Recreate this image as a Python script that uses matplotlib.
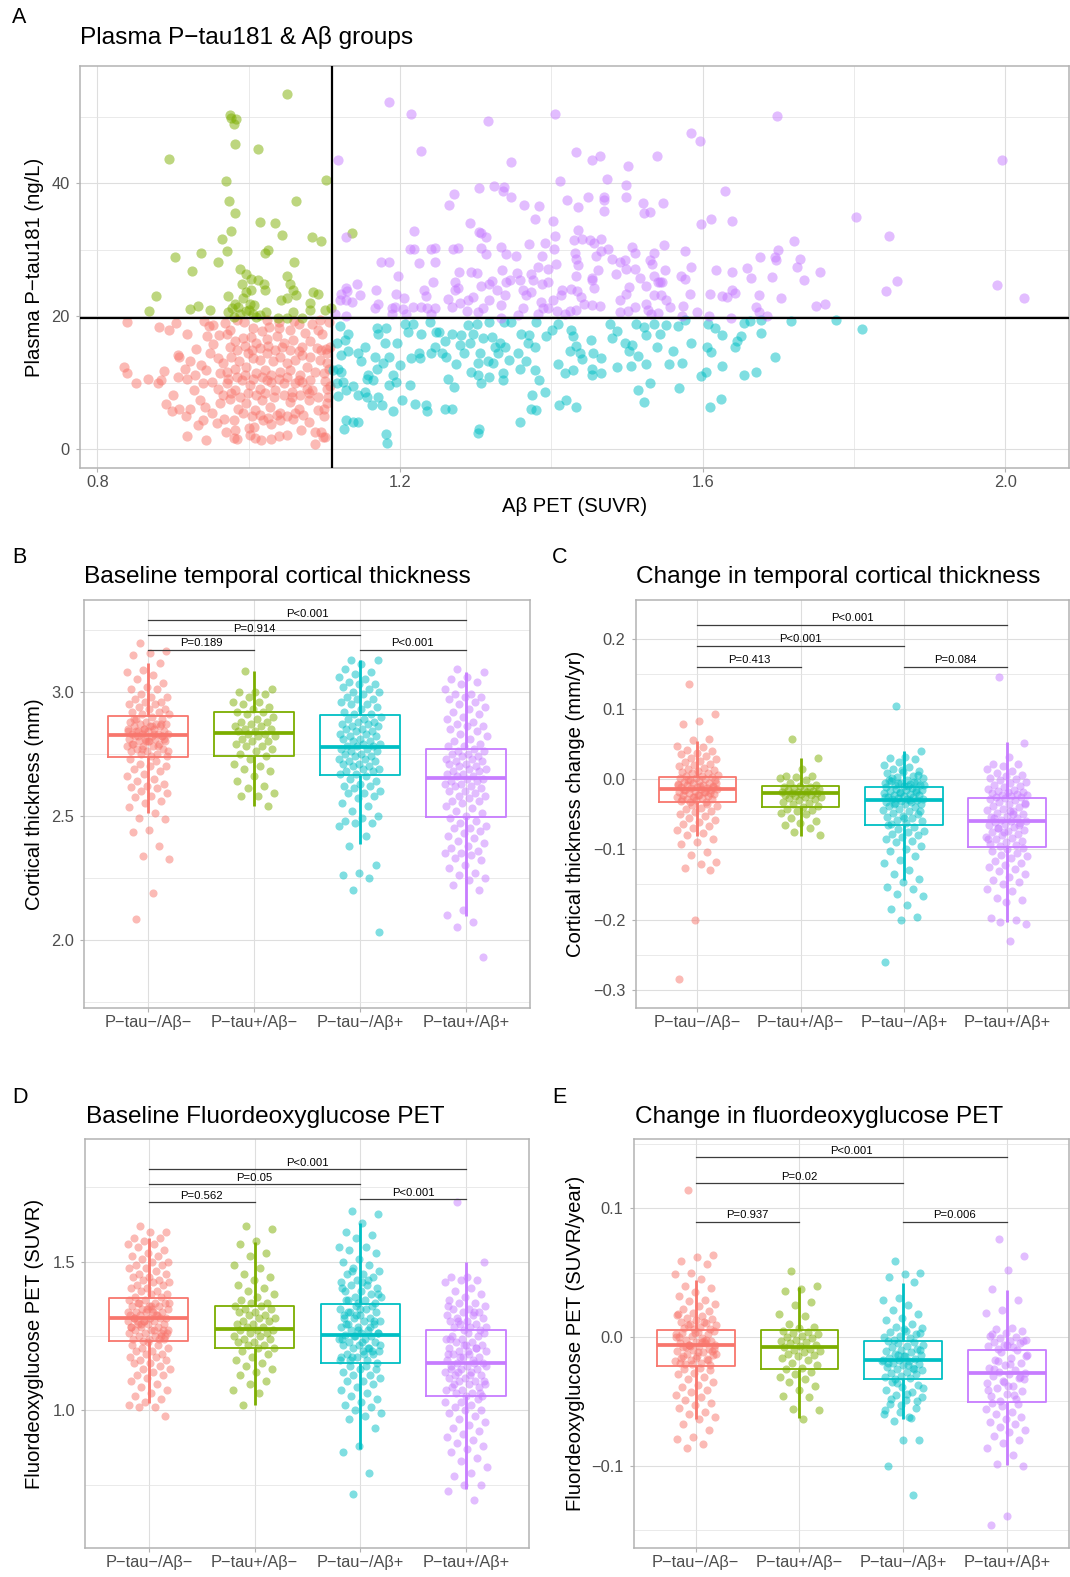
import numpy as np
import matplotlib
matplotlib.use("Agg")
import matplotlib.pyplot as plt

plt.rcParams['font.family'] = ['Liberation Sans', 'DejaVu Sans']

groups = ["P\u2212tau\u2212/A\u03b2\u2212", "P\u2212tau+/A\u03b2\u2212",
          "P\u2212tau\u2212/A\u03b2+", "P\u2212tau+/A\u03b2+"]
colors = ["#F8766D", "#7CAE00", "#00BFC4", "#C77CFF"]

# ---- panel A : (Abeta PET SUVR, plasma p-tau181) per group
a_neg_neg = [(0.839,19.2),(0.882,18.4),(0.894,18.0),(0.904,19.0),(0.918,17.4),(0.941,19.3),(0.947,18.6),(0.953,18.7),(0.969,19.0),(0.975,18.0),(0.994,19.2),(1.006,18.3),(1.018,17.8),(1.027,18.4),(1.040,19.2),(1.040,18.2),(1.054,18.0),(1.066,18.9),(1.074,17.5),(1.084,18.9),(1.091,17.9),(1.097,17.4),(1.106,19.2),(1.094,19.4),(1.024,19.4),(0.984,19.4),(1.060,19.3),
             (0.945,17.0),(0.953,15.8),(0.961,17.2),(0.971,17.4),(0.982,16.2),(0.993,16.7),(1.003,16.9),(1.010,16.0),(1.024,16.5),(1.037,17.0),(1.046,15.9),(1.059,16.4),(1.070,15.4),(1.081,16.2),(1.090,15.2),(1.096,14.9),(1.107,15.4),(0.930,15.0),(0.949,14.4),
             (0.907,14.2),(0.908,13.8),(0.922,13.2),(0.937,12.7),(0.959,13.7),(0.966,12.9),(0.977,13.9),(0.987,13.2),(0.999,14.4),(1.006,13.7),(1.015,13.4),(1.024,14.4),(1.032,13.2),(1.041,13.9),(1.050,12.9),(1.061,13.4),(1.070,14.2),(1.081,13.9),(1.094,13.4),(1.103,14.4),
             (0.835,12.4),(0.839,11.4),(0.888,11.8),(0.906,10.9),(0.916,12.1),(0.929,11.1),(0.944,11.9),(0.962,11.4),(0.971,11.6),(0.982,12.1),(0.997,12.4),(1.010,11.4),(1.021,11.9),(1.030,11.1),(1.041,11.6),(1.055,11.9),(1.068,11.1),(1.077,12.4),(1.088,11.6),(1.099,11.4),
             (0.851,10.0),(0.867,10.5),(0.880,9.9),(0.884,10.4),(0.900,8.2),(0.919,10.5),(0.927,8.9),(0.940,9.9),(0.951,10.1),(0.959,9.1),(0.971,9.9),(0.982,8.9),(0.991,10.4),(1.002,9.6),(1.015,9.1),(1.024,10.4),(1.035,8.9),(1.046,9.9),(1.057,8.6),(1.066,10.4),(1.077,9.1),(1.084,8.9),(1.104,9.1),(1.105,7.8),
             (0.891,6.8),(0.898,5.7),(0.908,6.1),(0.917,5.0),(0.922,6.1),(0.936,7.4),(0.942,6.3),(0.951,5.4),(0.962,6.9),(0.975,7.6),(0.986,6.1),(0.997,6.9),(1.008,5.9),(1.018,7.4),(1.028,6.4),(1.041,5.4),(1.055,7.1),(1.066,6.1),(1.079,7.4),(1.091,7.8),(1.099,6.1),(1.092,5.9),
             (0.933,3.6),(0.940,4.4),(0.958,3.9),(0.967,4.5),(0.980,4.3),(0.982,2.9),(1.001,3.1),(1.007,3.3),(1.019,4.4),(1.029,3.8),(1.041,4.4),(1.059,4.5),(1.069,2.9),(1.079,4.1),(1.088,2.5),(1.096,2.6),(0.918,1.9),(0.944,1.4),(0.970,2.5),(0.981,1.6),(0.985,1.5),(1.002,2.1),(1.008,1.6),(1.016,1.3),(1.030,1.5),(1.040,2.0),(1.050,2.1),(1.087,0.8),(1.098,1.8),
             (0.975,15.4),(0.984,14.9),(0.995,15.5),(1.004,14.9),(1.015,15.2),(1.026,15.5),(1.035,14.9),(1.044,15.3),(1.055,14.9),(1.066,14.7),(0.973,10.6),(0.984,10.9),(0.995,11.1),(1.006,10.6),(1.018,10.9),(1.030,10.1),(1.040,10.6),(1.051,10.9),(1.061,9.9),(1.071,10.1),(1.081,10.4),
             (0.966,8.1),(0.977,8.4),(0.988,7.9),(0.999,8.4),(1.010,8.1),(1.021,8.4),(1.033,7.9),(1.046,8.1),(1.057,7.9),(1.068,8.1),(1.079,8.4),(0.993,5.4),(1.004,4.9),(1.015,5.1),(1.026,4.6),(1.037,5.1),(1.050,4.9),(1.061,5.4),(1.072,5.1),
             (1.102,15.0),(1.104,13.0),(1.106,12.0),(1.101,10.2),(1.107,9.5),(1.103,7.0),(1.100,5.0),(1.101,1.8)]

a_pos_neg = [(1.050,53.5),(0.975,50.3),(0.977,49.9),(0.983,49.7),(0.980,48.9),(0.982,45.9),(1.012,45.2),(0.895,43.7),(0.970,40.4),(1.102,40.6),(0.974,37.3),(1.062,37.3),(0.982,35.6),(1.015,34.2),(1.035,34.0),(0.976,32.9),(1.044,32.3),(1.084,31.9),(1.096,31.4),(0.964,31.6),
             (0.971,29.9),(0.903,29.0),(0.937,29.6),(1.022,29.6),(1.025,30.0),(0.960,28.2),(1.060,28.2),(0.925,26.8),(0.988,27.1),(0.997,26.3),(1.003,25.6),(1.012,25.5),(1.020,24.8),(1.021,23.9),(1.050,26.1),(1.055,24.9),(1.059,23.9),(1.063,23.2),(0.991,24.9),(0.997,23.7),
             (1.003,23.9),(0.993,22.8),(0.973,23.0),(0.877,23.1),(1.085,23.7),(1.092,23.3),(1.043,22.4),(1.051,22.7),(1.081,22.0),(0.982,21.9),(0.986,21.4),(1.002,21.9),(1.007,21.7),(0.868,20.8),(0.923,21.1),(0.933,21.6),(0.949,20.9),(0.973,20.7),(0.980,19.9),(0.988,20.4),
             (0.997,20.8),(1.006,20.3),(1.015,20.2),(1.023,20.7),(1.039,19.8),(1.050,19.8),(1.058,20.6),(1.070,19.8),(1.081,20.9),(1.101,21.0),(1.109,21.2),(0.978,21.2),(1.001,20.9),(1.010,19.9),(1.137,32.6)]

a_neg_pos = [(1.120,18.6),(1.131,17.4),(1.127,16.4),(1.116,16.0),(1.122,14.2),(1.131,14.7),(1.145,14.4),(1.149,13.2),(1.153,15.4),(1.167,13.9),(1.170,18.2),(1.171,17.4),(1.181,18.3),(1.180,16.0),(1.196,15.9),(1.158,11.1),(1.156,10.6),(1.164,10.4),(1.169,12.1),(1.178,12.9),
             (1.186,13.8),(1.200,12.7),(1.118,12.1),(1.122,11.6),(1.111,11.9),(1.116,9.9),(1.125,10.1),(1.138,9.5),(1.118,8.0),(1.128,8.9),(1.145,8.1),(1.153,8.6),(1.156,7.8),(1.163,6.6),(1.171,7.9),(1.176,6.6),(1.190,5.8),(1.186,9.6),(1.191,11.1),(1.195,10.1),
             (1.203,7.4),(1.213,9.7),(1.214,13.7),(1.225,14.4),(1.226,13.7),(1.220,6.8),(1.234,6.6),(1.235,5.8),(1.259,6.0),(1.269,6.1),(1.263,10.5),(1.271,9.3),(1.206,18.9),(1.211,17.7),(1.217,18.9),(1.228,17.3),(1.239,19.2),(1.246,15.4),(1.248,17.7),(1.252,17.7),
             (1.260,16.2),(1.268,17.4),(1.274,12.8),(1.281,17.2),(1.279,15.7),(1.285,14.4),(1.292,15.9),(1.290,18.7),(1.296,17.3),(1.301,18.9),(1.305,14.4),(1.310,16.7),(1.318,19.2),(1.321,16.9),(1.326,15.4),(1.329,14.4),(1.332,15.9),(1.338,15.4),(1.344,13.4),(1.336,11.4),
             (1.336,10.4),(1.323,12.9),(1.316,13.2),(1.303,12.9),(1.294,11.6),(1.303,11.1),(1.307,9.9),(1.318,10.9),(1.255,14.4),(1.261,13.9),(1.241,14.4),(1.360,17.4),(1.371,17.2),(1.380,19.2),(1.378,15.4),(1.369,15.9),(1.356,14.4),(1.358,12.0),(1.367,13.2),(1.378,11.9),
             (1.384,10.4),(1.391,8.6),(1.374,8.1),(1.373,6.1),(1.380,5.9),(1.359,4.1),(1.304,3.0),(1.303,2.4),(1.128,4.4),(1.138,4.0),(1.145,4.0),(1.126,3.0),(1.181,2.3),(1.183,0.9),(1.393,17.0),(1.401,18.0),(1.409,18.8),(1.426,17.9),(1.429,17.0),(1.432,15.5),
             (1.424,14.7),(1.438,14.4),(1.440,13.5),(1.409,12.8),(1.418,11.5),(1.429,11.9),(1.452,16.4),(1.455,14.4),(1.466,13.7),(1.453,12.1),(1.454,11.1),(1.465,11.4),(1.478,18.9),(1.487,17.8),(1.480,16.7),(1.487,12.4),(1.497,15.9),(1.503,14.8),(1.506,15.7),(1.514,14.0),
             (1.505,12.5),(1.525,12.8),(1.512,18.9),(1.523,18.4),(1.525,17.2),(1.536,18.9),(1.544,17.4),(1.552,18.7),(1.539,15.3),(1.561,14.8),(1.556,12.8),(1.572,13.0),(1.585,15.9),(1.598,11.0),(1.530,10.0),(1.515,8.9),(1.522,7.1),(1.569,9.2),(1.577,19.4),(1.567,18.6),
             (1.410,6.6),(1.419,7.4),(1.433,6.3),(1.347,19.2),(1.337,19.2),(1.607,18.8),(1.616,18.2),(1.626,17.2),(1.650,17.1),(1.645,16.2),(1.642,15.4),(1.605,15.4),(1.611,14.6),(1.654,19.0),(1.662,19.3),(1.677,19.4),(1.677,17.5),(1.716,19.3),(1.776,19.5),(1.810,18.1),
             (1.696,13.8),(1.626,12.5),(1.654,11.1),(1.671,11.6),(1.604,11.6),(1.624,7.6),(1.610,6.4)]

a_pos_pos = [(1.185,52.3),(1.214,50.5),(1.316,49.4),(1.405,50.5),(1.585,47.6),(1.597,46.4),(1.227,44.9),(1.118,43.6),(1.346,43.2),(1.433,44.8),(1.454,43.5),(1.464,44.2),(1.539,44.1),(1.501,42.6),(1.411,40.4),(1.473,40.7),(1.499,39.7),(1.304,39.3),(1.324,39.6),(1.337,39.5),
             (1.336,38.9),(1.271,38.4),(1.265,36.7),(1.347,38.0),(1.364,36.7),(1.383,36.6),(1.420,37.5),(1.435,36.4),(1.449,37.9),(1.469,38.0),(1.470,37.5),(1.470,35.9),(1.499,37.9),(1.521,37.0),(1.523,35.5),(1.530,35.7),(1.548,37.1),(1.378,34.7),(1.402,34.4),(1.292,34.1),
             (1.598,33.9),(1.219,32.9),(1.304,32.7),(1.307,32.5),(1.313,32.0),(1.128,32.0),(1.405,32.1),(1.435,33.0),(1.430,31.5),(1.440,31.7),(1.451,31.5),(1.456,31.1),(1.466,31.6),(1.370,30.9),(1.391,31.1),(1.404,30.1),(1.213,30.2),(1.218,30.1),(1.241,30.1),(1.246,30.3),
             (1.270,30.1),(1.277,30.3),(1.307,30.3),(1.314,29.4),(1.334,30.5),(1.340,29.4),(1.353,29.1),(1.387,29.1),(1.406,27.8),(1.431,29.5),(1.432,28.6),(1.435,27.7),(1.459,29.1),(1.466,29.9),(1.475,30.2),(1.480,28.6),(1.491,28.2),(1.497,28.4),(1.506,30.5),(1.510,29.6),
             (1.536,29.6),(1.530,28.5),(1.533,27.9),(1.549,30.7),(1.577,29.9),(1.175,28.2),(1.185,28.1),(1.225,28.0),(1.246,28.1),(1.197,26.0),(1.278,26.6),(1.294,26.6),(1.301,26.5),(1.335,26.9),(1.354,26.5),(1.373,26.4),(1.382,27.4),(1.395,27.1),(1.433,26.1),(1.453,25.7),
             (1.462,26.9),(1.486,26.4),(1.499,27.1),(1.510,27.1),(1.517,25.7),(1.536,26.0),(1.543,25.2),(1.550,27.0),(1.571,26.1),(1.585,27.4),(1.577,25.6),(1.143,24.8),(1.128,24.3),(1.130,23.8),(1.168,24.0),(1.122,23.3),(1.147,23.2),(1.120,22.5),(1.129,22.4),(1.136,22.2),
             (1.171,21.8),(1.194,23.4),(1.205,22.8),(1.231,24.0),(1.234,23.0),(1.244,25.2),(1.273,25.1),(1.273,23.9),(1.277,24.3),(1.307,24.6),(1.317,24.8),(1.321,25.3),(1.328,23.9),(1.340,25.1),(1.345,25.4),(1.359,25.5),(1.362,24.0),(1.366,23.2),(1.373,23.7),(1.376,25.5),
             (1.387,24.8),(1.395,25.1),(1.414,24.0),(1.426,24.1),(1.434,23.8),(1.439,22.9),(1.453,25.5),(1.456,24.3),(1.502,24.4),(1.499,23.3),(1.525,24.6),(1.541,25.2),(1.546,25.1),(1.536,23.2),(1.545,23.2),(1.552,22.5),(1.583,23.3),(1.491,22.4),(1.167,21.2),(1.189,21.3),
             (1.193,21.4),(1.204,21.1),(1.217,21.4),(1.228,21.4),(1.235,21.3),(1.246,21.2),(1.263,22.6),(1.268,21.4),(1.279,22.0),(1.290,22.4),(1.296,22.9),(1.309,21.2),(1.318,22.5),(1.334,21.7),(1.339,23.2),(1.362,21.3),(1.386,22.1),(1.389,21.2),(1.402,22.4),(1.395,21.3),
             (1.413,23.2),(1.407,20.8),(1.418,20.4),(1.425,20.8),(1.432,20.9),(1.443,21.8),(1.453,21.7),(1.464,21.6),(1.490,20.7),(1.501,20.8),(1.511,21.4),(1.525,21.9),(1.528,21.0),(1.541,20.5),(1.557,21.4),(1.574,21.5),(1.593,20.7),(1.572,20.1),(1.114,20.4),(1.129,20.1),
             (1.189,20.3),(1.208,20.3),(1.241,20.4),(1.288,20.8),(1.303,20.7),(1.334,19.8),(1.356,20.2),(1.382,20.3),(1.532,20.4),(1.698,50.1),(1.995,43.5),(1.629,38.9),(1.611,34.7),(1.639,34.3),(1.803,35.0),(1.846,32.1),(1.721,31.4),(1.699,30.0),(1.675,29.0),(1.696,29.0),
             (1.697,28.4),(1.729,28.6),(1.617,27.0),(1.638,26.7),(1.659,27.3),(1.725,27.4),(1.755,26.6),(1.664,25.7),(1.691,25.9),(1.734,25.4),(1.842,23.8),(1.857,25.3),(1.989,24.7),(2.025,22.8),(1.609,23.3),(1.626,23.1),(1.632,22.9),(1.639,23.9),(1.643,23.5),(1.674,23.2),
             (1.703,22.7),(1.671,21.4),(1.674,20.7),(1.685,20.1),(1.750,21.5),(1.762,21.9),(1.637,19.8),(1.608,20.1)]

abeta_cut = 1.11
ptau_cut = 19.7

# ---- panel B : baseline temporal cortical thickness (mm)
ct_neg_neg = [3.195,3.164,3.157,3.150,3.117,3.087,3.081,3.067,3.050,3.036,3.020,3.013,3.01,2.99,2.98,2.98,2.97,2.96,2.96,2.95,2.95,2.94,2.93,2.93,2.92,2.92,2.91,2.91,
              2.90,2.89,2.89,2.88,2.88,2.87,2.87,2.87,2.86,2.86,2.86,2.85,2.85,2.85,2.84,2.84,2.84,2.83,2.83,2.83,2.83,2.82,2.82,2.82,2.81,2.81,2.81,2.80,2.80,2.80,2.79,2.79,2.78,2.78,2.78,2.77,2.77,2.76,2.76,2.75,2.75,2.74,2.74,
              2.89,2.87,2.85,2.84,2.83,2.82,2.81,2.80,2.79,2.78,2.77,2.76,2.86,2.84,2.82,2.80,
              2.73,2.72,2.71,2.70,2.70,2.69,2.68,2.67,2.66,2.65,2.64,2.63,2.62,2.617,2.611,2.60,2.591,2.58,2.577,2.56,2.55,2.537,2.513,2.490,2.486,2.443,2.433,2.380,2.338,2.325,2.188,2.085]
ct_pos_neg = [3.085,3.01,3.00,3.00,2.99,2.98,2.96,2.96,2.95,2.94,2.93,2.92,2.92,2.91,2.90,2.89,2.88,2.88,2.87,2.86,2.86,2.85,2.85,2.84,2.84,2.83,2.83,2.82,2.82,2.81,2.80,2.80,2.79,2.78,2.78,2.77,2.76,2.75,2.74,2.73,2.71,2.70,2.69,2.68,2.66,2.64,2.62,2.61,2.59,2.58,2.58,2.54]
ct_neg_pos = [3.13,3.13,3.11,3.09,3.08,3.07,3.06,3.05,3.04,3.03,3.03,3.02,3.01,3.00,3.00,2.99,2.98,2.97,2.97,2.96,2.95,2.95,2.94,2.93,2.92,2.91,2.91,
              2.90,2.89,2.89,2.88,2.88,2.87,2.87,2.86,2.86,2.85,2.85,2.84,2.84,2.83,2.83,2.82,2.82,2.81,2.81,2.80,2.80,2.79,2.79,2.78,2.78,2.78,2.77,2.77,2.76,2.76,2.75,2.75,2.74,2.74,2.73,2.73,2.72,2.72,2.71,2.71,2.70,2.70,2.69,2.69,2.68,2.68,2.67,2.67,2.66,
              2.65,2.64,2.63,2.62,2.62,2.61,2.60,2.59,2.59,2.58,2.57,2.55,2.54,2.52,2.50,2.49,2.48,2.47,2.47,2.46,2.42,2.38,2.30,2.27,2.26,2.25,2.20,2.03]
ct_pos_pos = [3.09,3.08,3.06,3.05,3.04,3.03,3.01,2.99,2.99,2.98,2.98,2.97,2.96,2.95,2.94,2.93,2.92,2.91,2.90,2.89,2.88,2.87,2.86,2.86,2.85,2.84,2.83,2.82,2.81,2.80,2.79,2.78,2.78,
              2.77,2.76,2.76,2.75,2.75,2.74,2.74,2.73,2.73,2.72,2.72,2.71,2.71,2.70,2.70,2.69,2.69,2.68,2.68,2.67,2.67,2.66,2.66,2.65,2.65,2.64,2.64,2.63,2.63,2.62,2.62,2.61,2.60,2.60,2.59,2.58,2.58,2.57,2.56,2.56,2.55,2.54,2.53,2.52,2.51,2.50,
              2.49,2.48,2.47,2.46,2.45,2.45,2.44,2.43,2.42,2.41,2.40,2.39,2.38,2.37,2.36,2.35,2.35,2.34,2.33,2.32,2.30,2.29,2.27,2.26,2.25,2.24,2.22,2.20,2.12,2.10,2.07,2.05,1.93]
ct_q1 = [2.738, 2.742, 2.663, 2.497]
ct_med = [2.827, 2.832, 2.779, 2.654]
ct_q3 = [2.902, 2.919, 2.907, 2.769]
ct_wlo = [2.510, 2.541, 2.385, 2.094]
ct_whi = [3.114, 3.082, 3.128, 3.078]

# ---- panel C : change in temporal cortical thickness (mm/yr)
dct_neg_neg = [0.135,0.093,0.082,0.079,0.057,0.055,0.047,0.045,0.042,0.040,0.037,0.035,0.033,0.030,0.028,0.026,0.024,0.022,0.020,0.018,0.016,0.015,0.013,0.012,0.010,0.009,0.008,0.006,0.005,0.004,
               0.003,0.002,0.001,0.000,-0.001,-0.002,-0.003,-0.004,-0.005,-0.006,-0.007,-0.008,-0.009,-0.010,-0.011,-0.012,-0.013,-0.013,-0.014,-0.014,-0.015,-0.016,-0.017,-0.018,-0.019,-0.020,-0.021,-0.022,-0.023,-0.024,-0.025,-0.026,-0.027,-0.028,-0.029,-0.030,-0.031,-0.032,-0.033,
               -0.005,-0.010,-0.015,-0.020,-0.025,-0.008,-0.018,-0.002,-0.012,-0.022,-0.028,
               -0.035,-0.037,-0.039,-0.041,-0.043,-0.045,-0.047,-0.050,-0.052,-0.055,-0.058,-0.061,-0.064,-0.067,-0.070,-0.073,-0.077,-0.080,-0.086,-0.089,-0.093,-0.104,-0.108,-0.118,-0.121,-0.127,-0.130,-0.200,-0.285]
dct_pos_neg = [0.057,0.030,0.014,0.005,0.004,0.003,0.001,-0.002,-0.005,-0.008,-0.010,-0.011,-0.012,-0.013,-0.014,-0.015,-0.016,-0.017,-0.018,-0.019,-0.019,-0.020,-0.020,-0.021,-0.022,-0.023,-0.024,-0.025,-0.026,-0.027,
               -0.028,-0.030,-0.032,-0.034,-0.036,-0.038,-0.040,-0.042,-0.044,-0.046,-0.048,-0.050,-0.055,-0.060,-0.063,-0.066,-0.069,-0.075,-0.080]
dct_neg_pos = [0.104,0.040,0.031,0.030,0.028,0.025,0.020,0.017,0.015,0.012,0.010,0.008,0.005,0.003,0.001,-0.001,-0.003,-0.004,-0.005,-0.006,-0.007,-0.008,-0.009,-0.010,-0.002,-0.004,-0.006,-0.008,-0.010,0.002,0.006,0.013,
               -0.012,-0.013,-0.014,-0.015,-0.016,-0.017,-0.018,-0.019,-0.020,-0.021,-0.022,-0.023,-0.024,-0.025,-0.026,-0.027,-0.028,-0.029,-0.029,-0.030,-0.031,-0.032,-0.033,-0.034,-0.035,-0.036,-0.038,-0.040,-0.042,-0.044,-0.046,-0.048,-0.050,-0.052,-0.054,-0.056,-0.058,-0.060,-0.062,-0.064,
               -0.015,-0.020,-0.025,-0.030,-0.035,-0.045,-0.055,-0.065,
               -0.068,-0.071,-0.074,-0.076,-0.078,-0.080,-0.083,-0.086,-0.088,-0.090,-0.095,-0.100,-0.102,-0.110,-0.115,-0.120,-0.130,-0.135,-0.143,-0.147,-0.153,-0.157,-0.164,-0.167,-0.180,-0.185,-0.197,-0.200,-0.261]
dct_pos_pos = [0.145,0.052,0.032,0.022,0.021,0.018,0.015,0.012,0.009,0.006,0.004,0.002,0.000,-0.002,-0.004,-0.006,-0.008,-0.010,-0.012,-0.014,-0.016,-0.017,-0.018,-0.019,-0.020,-0.021,-0.022,-0.023,-0.024,-0.025,-0.026,-0.027,
               -0.028,-0.030,-0.032,-0.034,-0.036,-0.038,-0.040,-0.042,-0.044,-0.046,-0.048,-0.050,-0.052,-0.054,-0.056,-0.058,-0.059,-0.060,-0.061,-0.062,-0.064,-0.066,-0.068,-0.070,-0.072,-0.074,-0.076,-0.078,-0.080,-0.082,-0.084,-0.086,-0.088,-0.090,-0.092,-0.094,-0.096,
               -0.035,-0.045,-0.055,-0.065,-0.075,-0.085,-0.050,-0.070,
               -0.098,-0.100,-0.102,-0.105,-0.108,-0.110,-0.113,-0.116,-0.120,-0.123,-0.125,-0.128,-0.131,-0.135,-0.140,-0.144,-0.147,-0.150,-0.156,-0.160,-0.170,-0.172,-0.175,-0.198,-0.200,-0.203,-0.207,-0.231]
dct_q1 = [-0.0328, -0.0394, -0.0655, -0.0973]
dct_med = [-0.0138, -0.0195, -0.0294, -0.0598]
dct_q3 = [0.0028, -0.0104, -0.0114, -0.0275]
dct_wlo = [-0.0807, -0.0807, -0.1434, -0.2033]
dct_whi = [0.0537, 0.0295, 0.0394, 0.0522]

# ---- panel D : baseline FDG PET (SUVR)
fdg_neg_neg = [1.62,1.60,1.60,1.58,1.58,1.57,1.56,1.56,1.55,1.54,1.53,1.52,1.52,1.51,1.50,1.50,1.49,1.49,1.48,1.48,1.47,1.46,1.46,1.45,1.45,1.44,1.44,1.43,1.43,1.42,1.42,1.41,1.41,1.40,1.40,1.39,1.39,1.38,1.38,
               1.37,1.37,1.36,1.36,1.36,1.35,1.35,1.35,1.34,1.34,1.34,1.33,1.33,1.33,1.32,1.32,1.32,1.31,1.31,1.31,1.31,1.30,1.30,1.30,1.29,1.29,1.29,1.28,1.28,1.28,1.27,1.27,1.27,1.26,1.26,1.26,1.25,1.25,1.25,1.24,1.24,1.24,1.235,
               1.36,1.33,1.30,1.27,1.34,1.28,1.32,1.29,1.26,1.35,1.31,1.25,1.30,1.33,1.27,1.36,1.24,
               1.23,1.22,1.22,1.21,1.21,1.20,1.20,1.19,1.19,1.18,1.18,1.17,1.17,1.16,1.16,1.15,1.14,1.14,1.13,1.12,1.12,1.11,1.10,1.09,1.08,1.07,1.06,1.05,1.04,1.03,1.02,1.01,1.01,0.98]
fdg_pos_neg = [1.62,1.61,1.57,1.56,1.53,1.52,1.49,1.48,1.46,1.45,1.44,1.42,1.41,1.40,1.39,1.38,1.37,1.36,1.36,1.35,1.35,1.34,1.34,1.33,1.33,1.32,1.32,1.31,1.31,1.30,1.30,1.29,
               1.29,1.28,1.28,1.27,1.27,1.27,1.26,1.26,1.25,1.25,1.24,1.24,1.23,1.23,1.22,1.22,1.21,1.21,1.20,1.19,1.18,1.17,1.16,1.15,1.14,1.13,1.12,1.10,1.09,1.07,1.06,1.02]
fdg_neg_pos = [1.67,1.66,1.63,1.60,1.59,1.58,1.55,1.55,1.54,1.53,1.51,1.50,1.49,1.48,1.47,1.46,1.46,1.45,1.44,1.43,1.42,1.42,1.41,1.40,1.40,1.39,1.38,1.38,1.37,1.37,1.36,1.36,1.41,1.44,1.47,1.39,1.43,1.37,
               1.35,1.35,1.34,1.34,1.33,1.33,1.32,1.32,1.31,1.31,1.30,1.30,1.29,1.29,1.28,1.28,1.27,1.27,1.26,1.26,1.255,1.25,1.25,1.24,1.24,1.23,1.23,1.22,1.22,1.21,1.21,1.20,1.20,1.19,1.19,1.18,1.18,1.17,1.17,1.16,
               1.34,1.31,1.28,1.25,1.22,1.19,1.33,1.30,1.27,1.24,1.21,1.18,1.26,1.23,1.29,1.20,1.32,1.17,
               1.15,1.15,1.14,1.14,1.13,1.12,1.12,1.11,1.10,1.10,1.09,1.08,1.07,1.06,1.05,1.04,1.03,1.02,1.01,1.00,0.99,0.98,0.97,0.94,0.88,0.86,0.79,0.72]
fdg_pos_pos = [1.70,1.50,1.45,1.45,1.44,1.44,1.43,1.41,1.40,1.39,1.38,1.37,1.36,1.36,1.35,1.34,1.34,1.33,1.33,1.32,1.32,1.31,1.31,1.30,1.30,1.29,1.29,1.28,1.28,1.28,1.27,1.27,1.35,1.33,1.30,
               1.26,1.26,1.25,1.25,1.24,1.24,1.23,1.23,1.22,1.22,1.21,1.21,1.20,1.20,1.19,1.19,1.18,1.18,1.17,1.17,1.16,1.16,1.15,1.15,1.14,1.14,1.13,1.13,1.12,1.12,1.11,1.11,1.10,1.10,1.09,1.09,1.08,1.08,1.07,1.07,1.06,1.06,1.05,1.05,
               1.24,1.21,1.18,1.15,1.12,1.09,1.06,1.22,1.19,1.16,1.13,1.10,1.20,1.14,
               1.04,1.03,1.03,1.02,1.01,1.00,1.00,0.99,0.98,0.97,0.96,0.95,0.94,0.93,0.92,0.91,0.90,0.89,0.88,0.87,0.86,0.84,0.83,0.81,0.79,0.78,0.75,0.75,0.73,0.70]
fdg_q1 = [1.233, 1.211, 1.160, 1.049]
fdg_med = [1.309, 1.273, 1.255, 1.161]
fdg_q3 = [1.377, 1.352, 1.358, 1.270]
fdg_wlo = [1.025, 1.020, 0.872, 0.736]
fdg_whi = [1.578, 1.566, 1.629, 1.498]

# ---- panel E : change in FDG PET (SUVR/year)
dfdg_neg_neg = [0.114,0.064,0.062,0.059,0.057,0.050,0.049,0.045,0.040,0.038,0.035,0.032,0.029,0.028,0.026,0.024,0.022,0.020,0.019,0.017,0.016,0.015,0.014,0.013,0.012,0.011,0.010,0.009,0.008,0.007,0.006,0.006,0.018,0.012,0.009,
                0.005,0.004,0.003,0.002,0.001,0.000,-0.001,-0.002,-0.003,-0.004,-0.005,-0.005,-0.006,-0.006,-0.007,-0.008,-0.009,-0.010,-0.011,-0.012,-0.013,-0.014,-0.015,-0.016,-0.017,-0.018,-0.019,-0.020,-0.021,-0.022,
                0.003,0.000,-0.003,-0.006,-0.009,-0.012,-0.015,-0.018,-0.021,0.002,-0.004,-0.008,-0.011,-0.016,-0.020,-0.002,-0.007,-0.013,
                -0.024,-0.025,-0.026,-0.028,-0.029,-0.031,-0.033,-0.035,-0.037,-0.039,-0.041,-0.043,-0.045,-0.047,-0.049,-0.051,-0.053,-0.055,-0.058,-0.060,-0.062,-0.064,-0.068,-0.072,-0.078,-0.079,-0.083,-0.086]
dfdg_pos_neg = [0.051,0.040,0.037,0.036,0.027,0.025,0.018,0.016,0.010,0.008,0.007,0.005,0.004,0.003,0.002,0.001,0.000,-0.001,-0.002,-0.003,-0.004,-0.005,-0.006,-0.007,-0.008,-0.009,-0.010,-0.011,-0.012,-0.013,
                -0.014,-0.015,-0.016,-0.018,-0.020,-0.022,-0.024,-0.025,-0.027,-0.029,-0.031,-0.033,-0.035,-0.038,-0.041,-0.046,-0.047,-0.056,-0.057,-0.064]
dfdg_neg_pos = [0.059,0.050,0.049,0.047,0.043,0.030,0.029,0.025,0.021,0.018,0.015,0.013,0.010,0.008,0.007,0.005,0.004,0.002,0.001,0.000,-0.001,-0.002,0.003,0.006,
                -0.003,-0.004,-0.005,-0.006,-0.007,-0.008,-0.009,-0.010,-0.011,-0.012,-0.013,-0.014,-0.015,-0.016,-0.017,-0.018,-0.018,-0.019,-0.020,-0.021,-0.022,-0.023,-0.024,-0.025,-0.026,-0.027,-0.028,-0.029,-0.030,-0.031,-0.032,-0.033,
                -0.010,-0.015,-0.020,-0.025,-0.014,-0.019,-0.022,
                -0.035,-0.037,-0.039,-0.041,-0.043,-0.045,-0.047,-0.049,-0.052,-0.055,-0.058,-0.060,-0.062,-0.065,-0.080,-0.080,-0.100,-0.123,-0.036,-0.040,-0.044,-0.048,-0.050,-0.053,-0.057,-0.063]
dfdg_pos_pos = [0.076,0.063,0.052,0.037,0.029,0.021,0.019,0.007,0.006,0.005,0.003,0.001,0.000,-0.001,-0.002,-0.003,-0.004,-0.005,-0.006,-0.007,-0.008,-0.009,-0.003,-0.006,0.002,
                -0.010,-0.012,-0.014,-0.016,-0.018,-0.020,-0.022,-0.024,-0.026,-0.027,-0.028,-0.029,-0.030,-0.032,-0.034,-0.036,-0.038,-0.040,-0.042,-0.044,-0.046,-0.048,-0.050,-0.015,-0.021,-0.025,-0.031,-0.035,-0.041,-0.045,-0.019,-0.033,-0.038,
                -0.051,-0.052,-0.054,-0.056,-0.058,-0.060,-0.062,-0.064,-0.066,-0.068,-0.070,-0.072,-0.074,-0.077,-0.080,-0.082,-0.086,-0.092,-0.099,-0.100,-0.139,-0.146]
dfdg_q1 = [-0.0228, -0.0249, -0.0329, -0.0505]
dfdg_med = [-0.0060, -0.0080, -0.0176, -0.0277]
dfdg_q3 = [0.0052, 0.0052, -0.0028, -0.0098]
dfdg_wlo = [-0.0640, -0.0632, -0.0640, -0.0997]
dfdg_whi = [0.0443, 0.0391, 0.0417, 0.0365]

# pairwise comparisons: (group i, group j, bracket height, label)
ct_pvals = [(0, 3, 3.289, "P<0.001"), (0, 2, 3.229, "P=0.914"), (0, 1, 3.17, "P=0.189"), (2, 3, 3.17, "P<0.001")]
dct_pvals = [(0, 3, 0.220, "P<0.001"), (0, 2, 0.190, "P<0.001"), (0, 1, 0.160, "P=0.413"), (2, 3, 0.160, "P=0.084")]
fdg_pvals = [(0, 3, 1.811, "P<0.001"), (0, 2, 1.760, "P=0.05"), (0, 1, 1.700, "P=0.562"), (2, 3, 1.710, "P<0.001")]
dfdg_pvals = [(0, 3, 0.1396, "P<0.001"), (0, 2, 0.1197, "P=0.02"), (0, 1, 0.0897, "P=0.937"), (2, 3, 0.0897, "P=0.006")]


W, H = 1070, 1577
fig = plt.figure(figsize=(W / 100, H / 100), dpi=100)


def add_ax(l, t, r, b):
    return fig.add_axes([l / W, 1 - b / H, (r - l) / W, (b - t) / H])


def style(ax):
    for s in ax.spines.values():
        s.set_color("#B3B3B3")
        s.set_linewidth(1.1)
    ax.grid(True, which="major", color="#DEDEDE", lw=0.8)
    ax.grid(True, which="minor", color="#E4E4E4", lw=0.55)
    ax.tick_params(which="major", length=2.8, width=0.8, color="#B3B3B3",
                   labelcolor="#4D4D4D", labelsize=11.8)
    ax.tick_params(axis="x", pad=2)
    ax.tick_params(axis="y", pad=4.5)
    ax.tick_params(which="minor", length=0)
    ax.set_axisbelow(True)


def fmt(v, nd):
    return f"{v:.{nd}f}".replace("-", "\u2212")


def txt(x, y, s, **kw):
    fig.text(x / W, 1 - y / H, s, **kw)


def jitter(n, width=0.2):
    # evenly spread horizontal offsets (position only)
    return ((np.arange(n) * 0.6180339887 + 0.3) % 1.0 - 0.5) * 2 * width


def box_panel(ax, data, q1, med, q3, wlo, whi, pvals, yticks, yminor, ylim, nd):
    for i in range(4):
        y = np.array(data[i])
        ax.scatter(i + 1 + jitter(len(y)), y, s=34, color=colors[i], alpha=0.5,
                   linewidths=0, zorder=2)
    stats = [dict(q1=q1[i], med=med[i], q3=q3[i], whislo=wlo[i], whishi=whi[i], fliers=[])
             for i in range(4)]
    bp = ax.bxp(stats, positions=[1, 2, 3, 4], widths=0.75, showfliers=False,
                showcaps=False, manage_ticks=False)
    for i in range(4):
        bp["boxes"][i].set(color=colors[i], lw=1.3, zorder=3)
        bp["medians"][i].set(color=colors[i], lw=2.7, zorder=3, solid_capstyle="butt")
        bp["whiskers"][2 * i].set(color=colors[i], lw=2.0, zorder=3, solid_capstyle="butt")
        bp["whiskers"][2 * i + 1].set(color=colors[i], lw=2.0, zorder=3, solid_capstyle="butt")
    for i, j, yb, lab in pvals:
        ax.plot([i + 1, j + 1], [yb, yb], color="#3C3C3C", lw=0.9, zorder=4)
        ax.annotate(lab, ((i + j) / 2 + 1, yb), xytext=(0, 1.0), textcoords="offset points",
                    ha="center", va="bottom", fontsize=8.1, color="black")
    ax.set_xlim(0.4, 4.6)
    ax.set_xticks([1, 2, 3, 4])
    ax.set_xticklabels(groups)
    ax.set_ylim(*ylim)
    ax.set_yticks(yticks)
    ax.set_yticklabels([fmt(v, nd) for v in yticks])
    ax.set_yticks(yminor, minor=True)
    style(ax)
    ax.grid(False, which="minor", axis="x")


# ---- panel A
axA = add_ax(80, 66, 1069, 468)
for pts, c in zip([a_neg_neg, a_pos_neg, a_neg_pos, a_pos_pos], colors):
    xy = np.array(pts)
    axA.scatter(xy[:, 0], xy[:, 1], s=54, color=c, alpha=0.5, linewidths=0, zorder=2)
axA.axvline(abeta_cut, color="black", lw=1.6, zorder=4)
axA.axhline(ptau_cut, color="black", lw=1.6, zorder=4)
axA.set_xlim(0.777, 2.084)
axA.set_ylim(-2.86, 57.7)
axA.set_xticks([0.8, 1.2, 1.6, 2.0])
axA.set_xticklabels([fmt(v, 1) for v in [0.8, 1.2, 1.6, 2.0]])
axA.set_xticks([1.0, 1.4, 1.8], minor=True)
axA.set_yticks([0, 20, 40])
axA.set_yticklabels(["0", "20", "40"])
axA.set_yticks([10, 30, 50], minor=True)
style(axA)

# ---- panels B-E
axB = add_ax(84.4, 599.5, 529.5, 1008)
box_panel(axB, [ct_neg_neg, ct_pos_neg, ct_neg_pos, ct_pos_pos], ct_q1, ct_med, ct_q3, ct_wlo, ct_whi,
          ct_pvals, [2.0, 2.5, 3.0], [1.75, 2.25, 2.75, 3.25], (1.725, 3.372), 1)

axC = add_ax(635.5, 600, 1069, 1008)
box_panel(axC, [dct_neg_neg, dct_pos_neg, dct_neg_pos, dct_pos_pos], dct_q1, dct_med, dct_q3, dct_wlo, dct_whi,
          dct_pvals, [-0.3, -0.2, -0.1, 0.0, 0.1, 0.2], [-0.25, -0.15, -0.05, 0.05, 0.15], (-0.326, 0.255), 1)

axD = add_ax(85.4, 1139, 529.3, 1548)
box_panel(axD, [fdg_neg_neg, fdg_pos_neg, fdg_neg_pos, fdg_pos_pos], fdg_q1, fdg_med, fdg_q3, fdg_wlo, fdg_whi,
          fdg_pvals, [1.0, 1.5], [0.75, 1.25, 1.75], (0.538, 1.912), 1)

axE = add_ax(633.6, 1139, 1069, 1548)
box_panel(axE, [dfdg_neg_neg, dfdg_pos_neg, dfdg_neg_pos, dfdg_pos_pos], dfdg_q1, dfdg_med, dfdg_q3, dfdg_wlo, dfdg_whi,
          dfdg_pvals, [-0.1, 0.0, 0.1], [-0.15, -0.05, 0.05, 0.15], (-0.164, 0.1539), 1)

# ---- titles, axis titles, panel letters
tsize = 17.6
txt(79.5, 44, "Plasma P\u2212tau181 & A\u03b2 groups", fontsize=tsize, va="baseline")
txt(84.4, 583, "Baseline temporal cortical thickness", fontsize=tsize, va="baseline")
txt(635.7, 583, "Change in temporal cortical thickness", fontsize=tsize, va="baseline")
txt(86, 1122.7, "Baseline Fluordeoxyglucose PET", fontsize=tsize, va="baseline")
txt(634.7, 1122.7, "Change in fluordeoxyglucose PET", fontsize=tsize, va="baseline")

lsize = 14.6
txt(574.5, 507, "A\u03b2 PET (SUVR)", fontsize=lsize, ha="center", va="center")
txt(34.4, 267, "Plasma P\u2212tau181 (ng/L)", fontsize=lsize, ha="center", va="center", rotation=90)
txt(34.4, 804, "Cortical thickness (mm)", fontsize=lsize, ha="center", va="center", rotation=90)
txt(575.5, 804, "Cortical thickness change (mm/yr)", fontsize=lsize, ha="center", va="center", rotation=90)
txt(34.4, 1343.5, "Fluordeoxyglucose PET (SUVR)", fontsize=lsize, ha="center", va="center", rotation=90)
txt(575.5, 1343.5, "Fluordeoxyglucose PET (SUVR/year)", fontsize=lsize, ha="center", va="center", rotation=90)

psize = 15.5
for lab, x, y in [("A", 12, 23), ("B", 12, 563), ("C", 552, 563), ("D", 12, 1103), ("E", 552, 1103)]:
    txt(x, y, lab, fontsize=psize, va="baseline")

fig.savefig("out.png", dpi=100, facecolor="white")
